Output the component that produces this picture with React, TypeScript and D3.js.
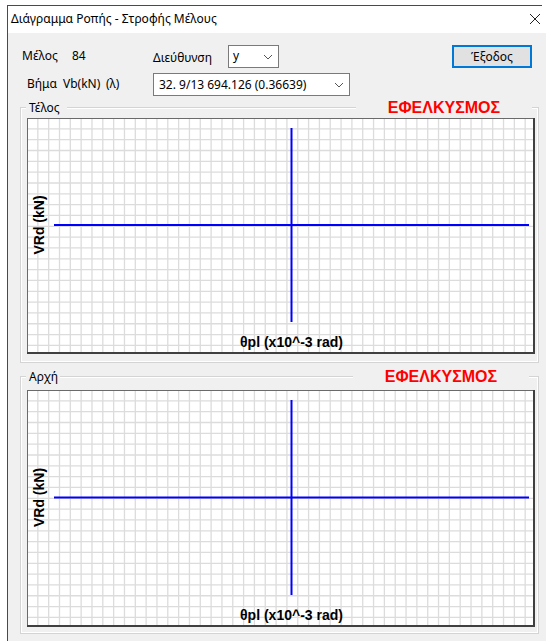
import React from "react";
import * as d3 from "d3";

const W = 546;
const H = 641;

// form values
const memberLabel = "Μέλος";
const memberId = "84";
const directionLabel = "Διεύθυνση";
const directionValue = "y";
const stepLabels = ["Βήμα", "Vb(kN)", "(λ)"];
const stepValue = "32. 9/13 694.126 (0.36639)";
const windowTitle = "Διάγραμμα Ροπής - Στροφής Μέλους";
const exitLabel = "Έξοδος";

// chart values
const panelTitles = ["Τέλος", "Αρχή"];
const panelStates = ["ΕΦΕΛΚΥΣΜΟΣ", "ΕΦΕΛΚΥΣΜΟΣ"];
const thetaExtent = [-1, 1]; // θpl span (x10^-3 rad)
const vrdExtent = [-1, 1]; // VRd span (kN)
const xAxisTitle = "θpl (x10^-3 rad)";
const yAxisTitle = "VRd (kN)";

const uiFont = "'Segoe UI', 'Noto Sans', sans-serif";
const boldFont = "Arial, 'Liberation Sans', sans-serif";

// layout of the two group boxes
const panels = [
  { groupTop: 107.5, groupBottom: 362.5, plotTop: 118, plotBottom: 353, stateX: 444 },
  { groupTop: 376.5, groupBottom: 633.5, plotTop: 390, plotBottom: 626, stateX: 441 },
];
const plotLeft = 27;
const plotRight = 534;
const gridStep = 10.83;

function Chevron({ x, y }: { x: number; y: number }) {
  return (
    <polyline
      points={`${x - 4},${y - 2} ${x},${y + 2} ${x + 4},${y - 2}`}
      fill="none"
      stroke="#555"
      strokeWidth={1}
    />
  );
}

function Panel({ p, i }: { p: any; i: number }) {
  let x = d3.scaleLinear().domain(thetaExtent).range([54, 529]);
  let y = d3
    .scaleLinear()
    .domain(vrdExtent)
    .range([p.plotBottom - 31, p.plotTop + 10]);

  let vLines = d3.range(plotLeft + gridStep, plotRight - 1, gridStep);
  let hLines = d3.range(p.plotTop + gridStep, p.plotBottom - 1, gridStep);

  let titleW = panelTitles[i].length * 7 + 6;

  return (
    <g>
      {/* etched group box */}
      <rect x={20.5} y={p.groupTop} width={518} height={p.groupBottom - p.groupTop} fill="none" stroke="#d4d4d4" />
      <rect x={21.5} y={p.groupTop + 1} width={516} height={p.groupBottom - p.groupTop - 2} fill="none" stroke="#ffffff" />
      <rect x={26} y={p.groupTop - 7} width={titleW} height={14} fill="#f0f0f0" />
      <text x={29} y={p.groupTop + 4.5} fontFamily={uiFont} fontSize={12} fill="#000">
        {panelTitles[i]}
      </text>
      <rect x={p.stateX - 88} y={p.groupTop - 8} width={176} height={16} fill="#f0f0f0" />
      <text
        x={p.stateX}
        y={p.groupTop + 5}
        textAnchor="middle"
        fontFamily={boldFont}
        fontWeight="bold"
        fontSize={16}
        fill="#ff0000"
      >
        {panelStates[i]}
      </text>

      {/* plot area */}
      <rect x={plotLeft} y={p.plotTop} width={plotRight - plotLeft} height={p.plotBottom - p.plotTop} fill="#fff" />
      {vLines.map((v, k) => (
        <line key={"v" + k} x1={v} x2={v} y1={p.plotTop} y2={p.plotBottom} stroke="#dcdcdc" strokeWidth={1.3} />
      ))}
      {hLines.map((h, k) => (
        <line key={"h" + k} x1={plotLeft} x2={plotRight} y1={h} y2={h} stroke="#dcdcdc" strokeWidth={1.3} />
      ))}
      <line x1={plotLeft + 0.5} x2={plotLeft + 0.5} y1={p.plotTop} y2={p.plotBottom} stroke="#6a6a6a" />
      <line x1={plotLeft} x2={plotRight} y1={p.plotTop + 0.5} y2={p.plotTop + 0.5} stroke="#6a6a6a" />
      <line x1={plotRight} x2={plotRight} y1={p.plotTop} y2={p.plotBottom + 1} stroke="#404040" strokeWidth={2} />
      <line x1={plotLeft} x2={plotRight + 1} y1={p.plotBottom} y2={p.plotBottom} stroke="#404040" strokeWidth={2} />

      {/* axes through zero */}
      <line x1={x(thetaExtent[0])} x2={x(thetaExtent[1])} y1={y(0)} y2={y(0)} stroke="#0000ff" strokeWidth={2} />
      <line x1={x(0)} x2={x(0)} y1={y(vrdExtent[0])} y2={y(vrdExtent[1])} stroke="#0000ff" strokeWidth={2} />

      <text
        x={x(0)}
        y={p.plotBottom - 6}
        textAnchor="middle"
        fontFamily={boldFont}
        fontWeight="bold"
        fontSize={14}
        fill="#000"
      >
        {xAxisTitle}
      </text>
      <text
        transform={`translate(44,${y(0)}) rotate(-90)`}
        textAnchor="middle"
        fontFamily={boldFont}
        fontWeight="bold"
        fontSize={14}
        fill="#000"
      >
        {yAxisTitle}
      </text>
    </g>
  );
}

export default function App() {
  return (
    <svg
      width={W}
      height={H}
      style={{ position: "absolute", left: 0, top: 0, display: "block" }}
    >
      <rect width={W} height={H} fill="#fff" />
      {/* window body */}
      <rect x={8} y={33} width={W - 8} height={H - 33} fill="#f0f0f0" />
      <line x1={7.5} x2={7.5} y1={5} y2={H} stroke="#4a4a4a" />
      <line x1={7} x2={542} y1={5.5} y2={5.5} stroke="#4a4a4a" />
      <text x={11} y={23} fontFamily={uiFont} fontSize={12} fill="#000">
        {windowTitle}
      </text>
      <line x1={530} x2={540} y1={14} y2={24} stroke="#222" strokeWidth={1} />
      <line x1={540} x2={530} y1={14} y2={24} stroke="#222" strokeWidth={1} />

      {/* form row 1 */}
      <text x={22} y={60} fontFamily={uiFont} fontSize={12} fill="#000">
        {memberLabel}
      </text>
      <text x={72} y={60} fontFamily={uiFont} fontSize={12} fill="#000">
        {memberId}
      </text>
      <text x={153} y={62} fontFamily={uiFont} fontSize={12} fill="#000">
        {directionLabel}
      </text>
      <rect x={228.5} y={45.5} width={50} height={22} fill="#fff" stroke="#7a7a7a" />
      <text x={233} y={60} fontFamily={uiFont} fontSize={12} fill="#000">
        {directionValue}
      </text>
      <Chevron x={268} y={57} />
      <rect x={453} y={46} width={78} height={21} fill="#e1e1e1" stroke="#0078d7" strokeWidth={2} />
      <text x={492} y={61} textAnchor="middle" fontFamily={uiFont} fontSize={12} fill="#000">
        {exitLabel}
      </text>

      {/* form row 2 */}
      <text x={27} y={88} fontFamily={uiFont} fontSize={12} fill="#000">
        {stepLabels[0]}
      </text>
      <text x={63} y={88} fontFamily={uiFont} fontSize={12} fill="#000">
        {stepLabels[1]}
      </text>
      <text x={106} y={88} fontFamily={uiFont} fontSize={12} fill="#000">
        {stepLabels[2]}
      </text>
      <rect x={153.5} y={73.5} width={196} height={22} fill="#fff" stroke="#7a7a7a" />
      <text x={159} y={89} fontFamily={uiFont} fontSize={12} fill="#000">
        {stepValue}
      </text>
      <Chevron x={339} y={85} />

      {panels.map((p, i) => (
        <Panel key={i} p={p} i={i} />
      ))}
    </svg>
  );
}
